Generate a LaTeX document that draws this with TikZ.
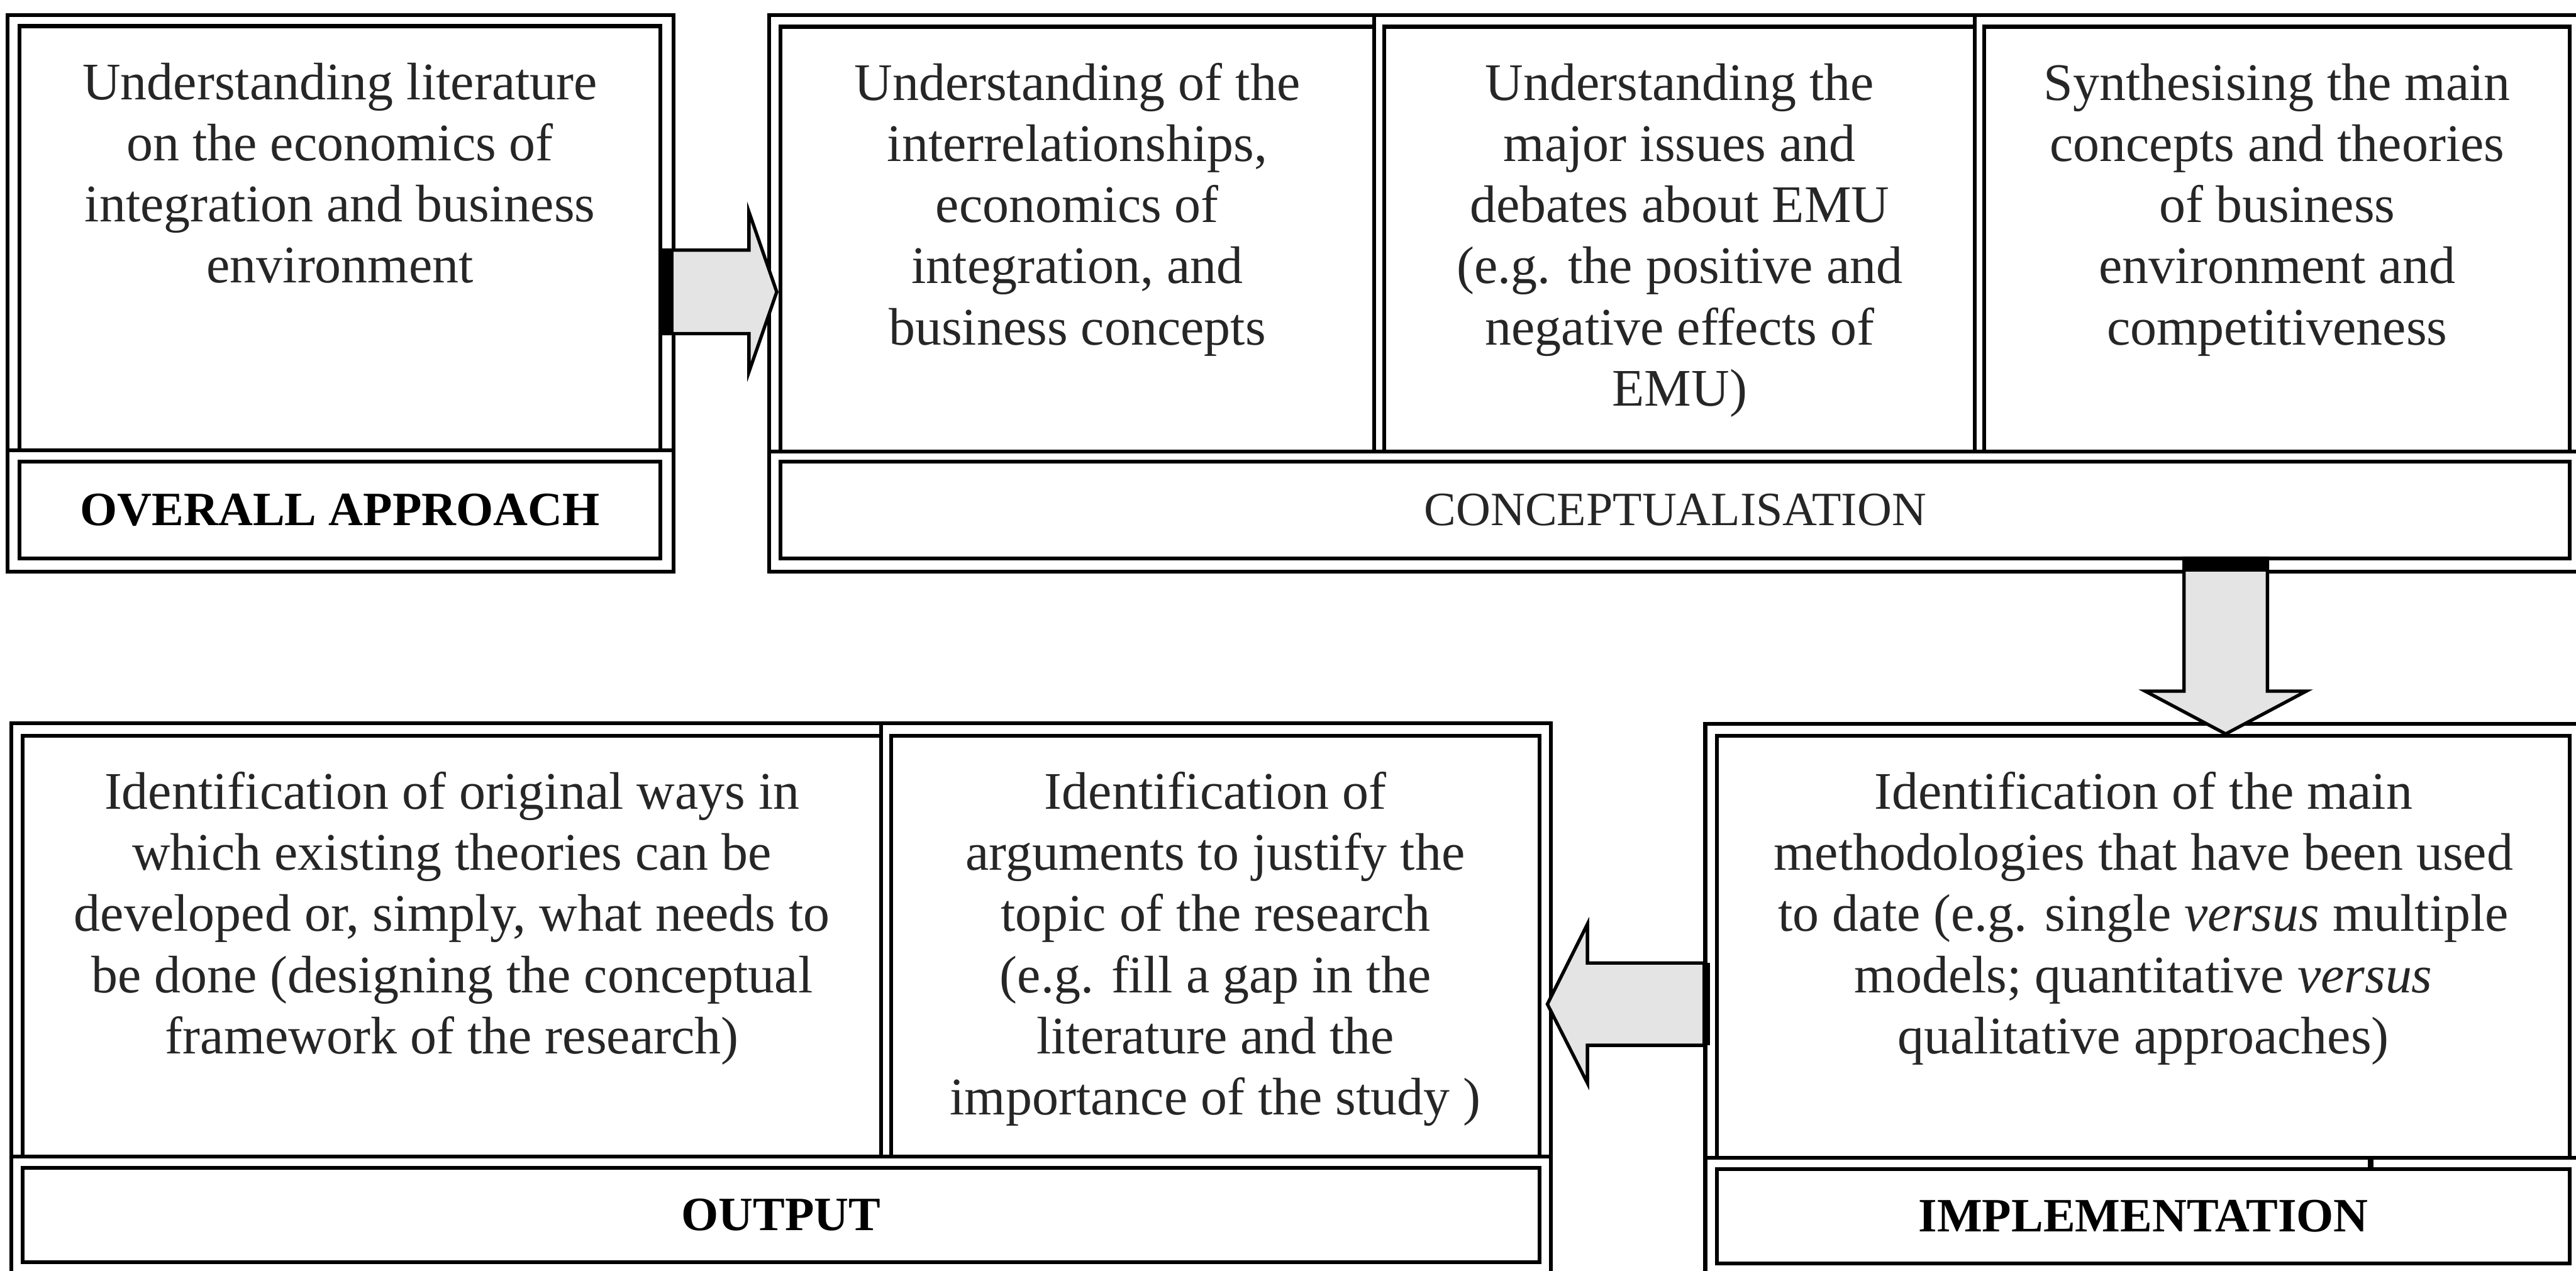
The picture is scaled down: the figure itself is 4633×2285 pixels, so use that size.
\documentclass[tikz,border=0pt]{standalone}
\usepackage{fontspec}
\setmainfont{Liberation Serif}
\usetikzlibrary{calc,fit}

\definecolor{ink}{HTML}{262626}
\definecolor{arrowgray}{HTML}{E4E4E4}

\begin{document}
\begin{tikzpicture}[x=0.1pt,y=-0.1pt,
  rule/.style={draw=black, line width=0.7pt},
  cellbox/.style={rectangle, draw=black, line width=0.7pt, inner sep=0pt, outer sep=0pt},
  body/.style={anchor=north, align=center, inner sep=0pt, text=ink,
    font=\fontsize{9.5}{11}\selectfont},
  lab/.style={inner sep=0pt, text=black, font=\fontsize{8.6}{10}\selectfont\bfseries},
  labreg/.style={inner sep=0pt, text=ink, font=\fontsize{8.6}{10}\selectfont},
  blockarrow/.style={fill=arrowgray, draw=black, line width=0.6pt, line join=miter},
]
\useasboundingbox (0,0) rectangle (4633,2285);
\clip (0,0) rectangle (4633,2285);

% ---------------- Overall approach ----------------
\node[cellbox, fit={(14,27) (1211,1028)}] (g1) {};
\node[cellbox, fit={(35,47) (1188,810)}] (g1a) {};
\node[cellbox, fit={(35,830) (1188,1004)}] (g1l) {};
\draw[rule] (g1.west |- g1a.south) -- (g1.east |- g1a.south);
\node[body] at ($(g1a.north)+(0,53)$) {\strut Understanding literature\\ on the economics of\\ integration and business\\ environment};
\node[lab] at (g1l.center) {OVERALL APPROACH};

% ---------------- Conceptualisation ----------------
\node[cellbox, fit={(1383,27) (4645,1028)}] (g2) {};
\node[cellbox, fit={(1404,48) (2471,812)}] (g2a) {};
\node[cellbox, fit={(2490,48) (3552,812)}] (g2b) {};
\node[cellbox, fit={(3569,48) (4622,812)}] (g2c) {};
\node[cellbox, fit={(1404,830) (4622,1004)}] (g2l) {};
\draw[rule] (g2.west |- g2a.south) -- (g2.east |- g2a.south);
\draw[rule] (g2a.south east |- g2.north) -- (g2a.south east);
\draw[rule] (g2b.south east |- g2.north) -- (g2b.south east);
\node[body] at ($(g2a.north)+(0,53)$) {\strut Understanding of the\\ interrelationships,\\ economics of\\ integration, and\\ business concepts};
\node[body] at ($(g2b.north)+(0,53)$) {\strut Understanding the\\ major issues and\\ debates about EMU\\ (e.g. the positive and\\ negative effects of\\ EMU)};
\node[body] at ($(g2c.north)+(0,53)$) {\strut Synthesising the main\\ concepts and theories\\ of business\\ environment and\\ competitiveness};
\node[labreg] at (g2l.center) {CONCEPTUALISATION};

% ---------------- Output ----------------
\node[cellbox, fit={(20,1301) (2789,2290)}] (g3) {};
\node[cellbox, fit={(41,1323) (1585,2080)}] (g3a) {};
\node[cellbox, fit={(1603,1323) (2769,2080)}] (g3b) {};
\node[cellbox, fit={(41,2100) (2769,2270)}] (g3l) {};
\draw[rule] (g3.west |- g3a.south) -- (g3.east |- g3a.south);
\draw[rule] (g3a.south east |- g3.north) -- (g3a.south east);
\node[body] at ($(g3a.north)+(0,53)$) {\strut Identification of original ways in\\ which existing theories can be\\ developed or, simply, what needs to\\ be done (designing the conceptual\\ framework of the research)};
\node[body] at ($(g3b.north)+(0,53)$) {\strut Identification of\\ arguments to justify the\\ topic of the research\\ (e.g. fill a gap in the\\ literature and the\\ importance of the study )};
\node[lab] at (g3l.center) {OUTPUT};

% ---------------- Implementation ----------------
\node[cellbox, fit={(3067,1302) (4645,2290)}] (g4) {};
\node[cellbox, fit={(3088,1323) (4622,2082)}] (g4a) {};
\node[cellbox, fit={(3088,2103) (4622,2272)}] (g4l) {};
\draw[rule] (g4.west |- g4a.south) -- (g4.east |- g4a.south);
\draw[line width=1pt] (4264,2082) -- (4264,2103);
\node[body] at ($(g4a.north)+(0,53)$) {\strut Identification of the main\\ methodologies that have been used\\ to date (e.g. single \textit{versus} multiple\\ models; quantitative \textit{versus}\\ qualitative approaches)};
\node[lab] at (g4l.center) {IMPLEMENTATION};

% ---------------- Block arrows ----------------
% overall approach -> conceptualisation
\coordinate (a1s) at (g1a.east |- 0,525);
\coordinate (a1t) at (1397,525);
\draw[blockarrow] ($(a1s)+(0,-75)$) -- ($(a1t)+(-50,-75)$) -- ($(a1t)+(-50,-144)$) -- (a1t)
  -- ($(a1t)+(-50,144)$) -- ($(a1t)+(-50,75)$) -- ($(a1s)+(0,75)$) -- cycle;
\fill ($(a1s)+(0,-75)$) rectangle ($(a1s)+(23,75)$);

% conceptualisation -> implementation
\coordinate (a2s) at (4003,1004);
\coordinate (a2t) at (4003,1320);
\draw[blockarrow] ($(a2s)+(-75,0)$) -- ($(a2t)+(-75,-77)$) -- ($(a2t)+(-145,-77)$) -- (a2t)
  -- ($(a2t)+(145,-77)$) -- ($(a2t)+(75,-77)$) -- ($(a2s)+(75,0)$) -- cycle;
\fill ($(a2s)+(-75,0)$) rectangle ($(a2s)+(75,24)$);

% implementation -> output
\coordinate (a3s) at (g4.west |- 0,1806);
\coordinate (a3t) at (2783,1806);
\draw[blockarrow] ($(a3s)+(0,-74)$) -- ($(a3t)+(72,-74)$) -- ($(a3t)+(72,-144)$) -- (a3t)
  -- ($(a3t)+(72,142)$) -- ($(a3t)+(72,74)$) -- ($(a3s)+(0,74)$) -- cycle;
\fill ($(a3s)+(-5,-74)$) rectangle ($(a3s)+(8,74)$);
\end{tikzpicture}
\end{document}
